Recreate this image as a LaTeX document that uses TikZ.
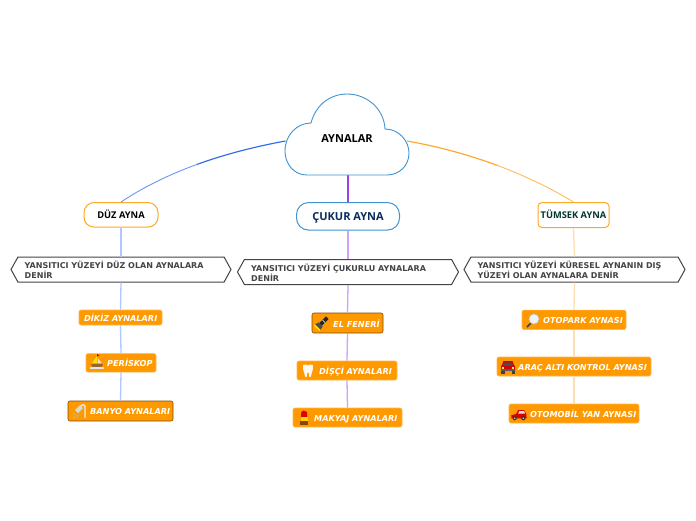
\documentclass[tikz,border=0pt]{standalone}
\usepackage{fontspec}
\setmainfont{DejaVu Sans}
\newfontfamily\headfont{Open Sans}
\usetikzlibrary{shapes.symbols}
\definecolor{leaforange}{HTML}{FF9900}
\definecolor{linkorange}{HTML}{FFA726}
\definecolor{branchblue}{HTML}{3F94D1}
\definecolor{hexgrey}{HTML}{444444}
\definecolor{navytext}{HTML}{0B2A5E}
\definecolor{greentext}{HTML}{00382E}
\definecolor{blueA}{HTML}{2F6BEE}
\definecolor{blueB}{HTML}{6C96F2}
\definecolor{violetlink}{HTML}{A040E8}
\definecolor{orangeA}{HTML}{FFA62B}
\definecolor{orangeB}{HTML}{FFBB5C}
\tikzset{
  x=1pt,y=-1pt,
  branchbox/.style={draw,fill=white,rounded corners=#1,line width=1pt,inner sep=0pt,
    text height=6.7pt,text depth=0pt,
    font=\headfont\bfseries\fontsize{9.3}{11}\selectfont},
  hexbox/.style={draw=hexgrey,fill=white,line width=1pt,shape=signal,signal to=west and east,
    signal pointer angle=122,inner sep=0pt,minimum height=25pt},
  hextext/.style={anchor=west,align=left,inner sep=0pt,text=hexgrey,
    font=\bfseries\fontsize{8}{10}\selectfont},
  leafbox/.style={fill=leaforange,draw=#1,rounded corners=2pt,line width=.6pt,inner sep=0pt},
  leaftext/.style={anchor=west,inner sep=0pt,text=white,text height=6pt,text depth=0pt,
    font=\bfseries\itshape\fontsize{8.15}{10}\selectfont},
  nearlink/.style={line width=1.15pt},
  farlink/.style={line width=.9pt},
  blueup/.style={color={rgb,255:red,176;green,199;blue,255},line width=1.3pt},
  purpleup/.style={color={rgb,255:red,208;green,160;blue,250},line width=1.3pt},
  peachup/.style={color={rgb,255:red,255;green,222;blue,180},line width=1.3pt},
}
\begin{document}
\begin{tikzpicture}
\useasboundingbox[fill=white] (0,0) rectangle (696,520);
% hubs
\coordinate (cl) at (285.5,141);
\coordinate (cr) at (407,141);
\coordinate (cb) at (348,175);
\coordinate (ml) at (197,164.4);
\coordinate (mr) at (497.6,165.5);
% boxes
\node[branchbox=10pt,draw=linkorange,minimum width=74pt,minimum height=24.5pt] (duz) at (121,214.8) {DÜZ AYNA};
\node[branchbox=12pt,draw=branchblue,text=navytext,minimum width=103pt,minimum height=27.5pt,text height=8pt,font=\headfont\bfseries\fontsize{11}{13}\selectfont] (cuk) at (348,216.3) {ÇUKUR AYNA};
\node[branchbox=4pt,draw=linkorange,text=greentext,minimum width=71pt,minimum height=25pt] (tum) at (573.5,215) {TÜMSEK AYNA};
\node[hexbox,minimum width=220pt] (h1) at (121,269.5) {};
\node[hexbox,minimum width=221pt] (h2) at (348,272) {};
\node[hexbox,minimum width=221pt] (h3) at (574.5,269.5) {};
\node[leafbox=leaforange!70!white,minimum width=83pt,minimum height=15pt] (a1) at (120.5,317.5) {};
\node[leafbox=leaforange!70!white,minimum width=70pt,minimum height=18.5pt] (a2) at (121,362.8) {};
\node[leafbox=black!50!leaforange,minimum width=105pt,minimum height=20pt] (a3) at (120.5,411) {};
\node[leafbox=black!50!leaforange,minimum width=71pt,minimum height=20pt] (b1) at (347.5,323) {};
\node[leafbox=leaforange!70!white,minimum width=100pt,minimum height=19pt] (b2) at (347,370.5) {};
\node[leafbox=leaforange!70!white,minimum width=109pt,minimum height=19pt] (b3) at (347.5,417.5) {};
\node[leafbox=leaforange!70!white,minimum width=104pt,minimum height=19.5pt] (c1) at (574,319.8) {};
\node[leafbox=leaforange!70!white,minimum width=154pt,minimum height=19pt] (c2) at (574,366.5) {};
\node[leafbox=leaforange!70!white,minimum width=130pt,minimum height=19pt] (c3) at (574,413.5) {};
% connectors
\draw[nearlink,color=blueA] (cl) .. controls (255.25,146.5) and (225,154.25) .. (ml);
\draw[farlink,color=blueB] (ml) .. controls (169,174.6) and (143,187.25) .. (duz.north);
\draw[nearlink,color=violetlink] (cb) -- (cuk.north);
\draw[nearlink,color=orangeA] (cr) .. controls (438.5,146.5) and (469.25,155) .. (mr);
\draw[farlink,color=orangeB] (mr) .. controls (525.9,176.1) and (551.75,188.75) .. (tum.north);
\foreach \p/\q in {duz/h1,h1/a1,a1/a2,a2/a3} \draw[blueup] (\p.south) -- (\q.north);
\foreach \p/\q in {cuk/h2,h2/b1,b1/b2,b2/b3} \draw[purpleup] (\p.south) -- (\q.north);
\foreach \p/\q in {tum/h3,h3/c1,c1/c2,c2/c3} \draw[peachup] (\p.south) -- (\q.north);
% cloud
\draw[fill=white,draw=branchblue,line width=.9pt] (311,123)
  .. controls (316,104) and (331,94) .. (347,94)
  .. controls (366,94) and (384,108) .. (385,129)
  .. controls (399,129) and (409,141) .. (409,153)
  .. controls (409,166) and (399,175) .. (387,175)
  -- (307,175)
  .. controls (294,175) and (285,164) .. (285,151)
  .. controls (285,135) and (297,123) .. (311,123) -- cycle;
\node[inner sep=0pt,text height=8pt,text depth=0pt,font=\headfont\bfseries\fontsize{11}{13}\selectfont] (root) at (347,138.5) {AYNALAR};
% hexagon texts
\node[hextext] (ht1) at (24.5,269.5) {YANSITICI YÜZEYİ DÜZ OLAN AYNALARA\\DENİR};
\node[hextext] (ht2) at (251,272.5) {YANSITICI YÜZEYİ ÇUKURLU AYNALARA\\DENİR};
\node[hextext] (ht3) at (477.5,269.5) {YANSITICI YÜZEYİ KÜRESEL AYNANIN DIŞ\\YÜZEYİ OLAN AYNALARA DENİR};
% leaf texts
\node[leaftext] (ta1) at (84,318) {DİKİZ AYNALARI};
\node[leaftext] (ta2) at (107,363) {PERİSKOP};
\node[leaftext] (ta3) at (90,411) {BANYO AYNALARI};
\node[leaftext] (tb1) at (333,324) {EL FENERİ};
\node[leaftext] (tb2) at (319,371) {DİŞÇİ AYNALARI};
\node[leaftext] (tb3) at (314,418) {MAKYAJ AYNALARI};
\node[leaftext] (tc1) at (543,320) {OTOPARK AYNASI};
\node[leaftext] (tc2) at (518,367) {ARAÇ ALTI KONTROL AYNASI};
\node[leaftext] (tc3) at (530,414) {OTOMOBİL YAN AYNASI};
% icons
% sailboat
\begin{scope}[shift={(97,362)}]
\fill[yellow!85!orange] (0,-6) -- (0,1) -- (-5,1) -- cycle;
\fill[red!80!black] (0,-8) -- (2.5,-6.5) -- (0,-5.5) -- cycle;
\fill[white!75!orange] (.8,-4) -- (.8,1) -- (4.5,1) -- cycle;
\fill[brown!80!black] (-6,2) -- (6,2) -- (4.5,5) -- (-4.5,5) -- cycle;
\fill[white!80!gray] (-7,5) rectangle (7,6.5);
\end{scope}
% shower
\begin{scope}[shift={(80,411)}]
\draw[white!85!gray,line width=1.4pt] (5,7) -- (5,-4) .. controls (5,-7) and (2,-7) .. (0,-4);
\fill[white!70!gray] (-5,-1) -- (0,-6) -- (3,-3) -- (-2,2) -- cycle;
\fill[cyan!50!white] (-6,3) circle (.8) (-3,5) circle (.8) (-6,6.5) circle (.8) (-1,3) circle (.7);
\end{scope}
% flashlight
\begin{scope}[shift={(322,323)},rotate=-45]
\fill[black!85] (-1.8,-7.5) rectangle (1.8,2);
\fill[black!70] (-3,2) -- (3,2) -- (3.8,6) -- (-3.8,6) -- cycle;
\fill[yellow!90!orange] (-3.8,6) rectangle (3.8,7.5);
\fill[gray!50] (-1.8,-3) rectangle (1.8,-2);
\end{scope}
% tooth
\begin{scope}[shift={(308,371)}]
\fill[white!94!orange] (-5,-6) .. controls (-2.5,-7.5) and (-1,-6) .. (0,-5.5)
 .. controls (1,-6) and (2.5,-7.5) .. (5,-6)
 .. controls (6,-3) and (4,0) .. (3.5,3) .. controls (3,6) and (2,7) .. (1.5,6)
 .. controls (1,3) and (0.5,1) .. (0,1) .. controls (-.5,1) and (-1,3) .. (-1.5,6)
 .. controls (-2,7) and (-3,6) .. (-3.5,3) .. controls (-4,0) and (-6,-3) .. (-5,-6) -- cycle;
\end{scope}
% lipstick
\begin{scope}[shift={(304,418)}]
\fill[red!90!black] (-3,-1) -- (-3,-5) .. controls (-2,-8) and (1,-8) .. (3,-6) -- (3,-1) -- cycle;
\fill[yellow!75!orange] (-3.5,-1) rectangle (3.5,2.5);
\fill[black!45!orange] (-4,2.5) rectangle (4,7);
\end{scope}
% magnifier
\begin{scope}[shift={(533,320)}]
\draw[black!75,line width=1.6pt] (-2,3) -- (-6,7);
\fill[white!90!gray] (1,-1) circle (5.2);
\draw[gray!60,line width=.6pt] (1,-1) circle (5.2);
\end{scope}
% car front
\begin{scope}[shift={(508,367)}]
\fill[red!85!black] (-4.5,-6) -- (4.5,-6) -- (6,-2) -- (7,-1) -- (7,3.5) -- (-7,3.5) -- (-7,-1) -- (-6,-2) -- cycle;
\fill[black!70] (-4,-4.5) -- (4,-4.5) -- (5,-1) -- (-5,-1) -- cycle;
\fill[black!75] (-7,3.5) rectangle (-3.5,6.5);
\fill[black!75] (3.5,3.5) rectangle (7,6.5);
\fill[black!65] (-7,2) rectangle (7,4);
\fill[yellow!60!white] (-6,0) rectangle (-4,1.5);
\fill[yellow!60!white] (4,0) rectangle (6,1.5);
\end{scope}
% car side
\begin{scope}[shift={(519,414)},scale=.85]
\fill[red!85!black] (-9,5) -- (-9,1.5) -- (-3.5,0) -- (-1,-4.5) -- (6,-4.5) -- (8.5,0) -- (9,5) -- cycle;
\fill[white!75!gray] (-1,-.5) -- (.5,-3.5) -- (6,-3.5) -- (7,-.5) -- cycle;
\fill[black!80] (-5,5) circle (2.4) (5,5) circle (2.4);
\fill[gray!40] (-5,5) circle (1) (5,5) circle (1);
\end{scope}
\end{tikzpicture}
\end{document}
